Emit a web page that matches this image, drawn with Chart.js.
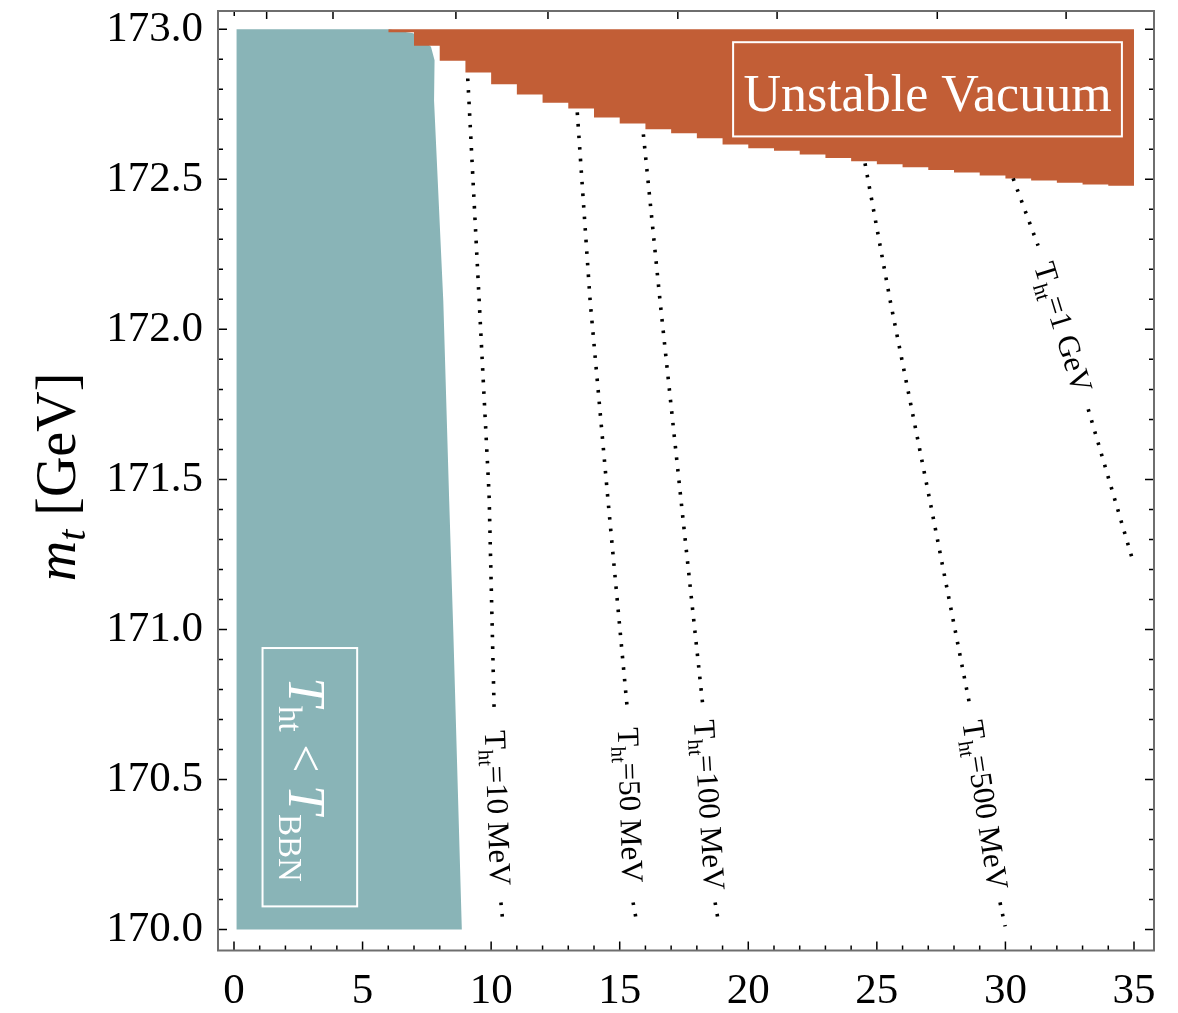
<!DOCTYPE html>
<html lang="pt-BR">
<head>
<meta charset="UTF-8">
<title>Vácuo instável — m_t</title>
<script src="https://cdn.jsdelivr.net/npm/chart.js@4.4.1/dist/chart.umd.min.js"></script>
<style>
  html, body { margin: 0; padding: 0; background: #ffffff; }
  #grafico { display: block; }
</style>
</head>
<body>
<canvas id="grafico" width="1178" height="1013"></canvas>
<script>
// -------------------------------------------------------------
// DADOS
// -------------------------------------------------------------
const ticksX = [0, 5, 10, 15, 20, 25, 30, 35];
const ticksY = [170.0, 170.5, 171.0, 171.5, 172.0, 172.5, 173.0];
// eixo superior: marcas sem rótulo, espaçamento irregular
const ticksTopo = [0.01, 1.27, 3.85, 8.63, 12.21, 17.26, 21.12, 27.35, 32.36];

// fronteira inferior da região "Unstable Vacuum" (degraus)
const vacuoX = [6, 7, 8, 9, 10, 11, 12, 13, 14, 15, 16, 17, 18, 19, 20,
                21, 22, 23, 24, 25, 26, 27, 28, 29, 30, 31, 32, 33, 34, 35];
const vacuoMt = [172.99, 172.945, 172.895, 172.856, 172.817, 172.783, 172.755, 172.736, 172.706, 172.686,
                 172.667, 172.654, 172.637, 172.616, 172.604, 172.595, 172.583, 172.571, 172.560, 172.550,
                 172.540, 172.531, 172.523, 172.513, 172.503, 172.496, 172.489, 172.483, 172.479, 172.479];

// região T_ht < T_BBN (contorno fechado)
const bbnX  = [0.1, 0.1, 6.0, 6.97, 7.66, 7.80, 7.78, 8.14, 8.37, 8.53, 8.86, 0.1];
const bbnMt = [170.0, 173.0, 173.0, 172.987, 172.942, 172.897, 172.763, 172.094, 171.426, 170.99, 170.0, 170.0];

// curvas pontilhadas de T_ht (null = espaço do rótulo)
const rotulosCurvas = ['10 MeV', '50 MeV', '100 MeV', '500 MeV', '1 GeV'];
const curva10X   = [9.09, 9.14, 9.92, 10.12, null, 10.38, 10.46];
const curva10Mt  = [172.836, 172.757, 171.45, 170.72, null, 170.09, 170.02];
const curva50X   = [13.35, 13.85, 14.55, 15.29, null, 15.52, 15.67];
const curva50Mt  = [172.723, 172.095, 171.426, 170.74, null, 170.09, 170.02];
const curva100X  = [15.92, 16.57, 17.39, 18.24, null, 18.71, 18.83];
const curva100Mt = [172.65, 172.094, 171.426, 170.74, null, 170.09, 170.03];
const curva500X  = [24.54, 25.52, 27.07, 28.63, null, 29.79, 29.99];
const curva500Mt = [172.553, 172.095, 171.426, 170.74, null, 170.09, 170.01];
const curva1GX   = [30.30, 31.27, null, 33.22, 34.93];
const curva1GMt  = [172.503, 172.279, null, 171.734, 171.236];

const FONTE = '"Liberation Serif", "DejaVu Serif", serif';
const COR_BBN = '#89b4b7';
const COR_VACUO = '#c25e36';

// -------------------------------------------------------------
// FUNÇÕES AUXILIARES
// -------------------------------------------------------------
function pontos(xs, ys) {
    return xs.map((v, i) => ({ x: v, y: ys[i] }));
}

function desenharTextoRico(ctx, partes, cx, cy, angulo, cor) {
    ctx.save();
    ctx.translate(cx, cy);
    ctx.rotate(angulo);
    ctx.fillStyle = cor;
    ctx.textAlign = 'left';
    ctx.textBaseline = 'alphabetic';
    let total = 0;
    const larguras = partes.map(p => {
        ctx.font = p.fonte;
        const w = ctx.measureText(p.texto).width;
        total += w;
        return w;
    });
    let x = -total / 2;
    partes.forEach((p, i) => {
        ctx.font = p.fonte;
        ctx.fillText(p.texto, x, p.base);
        x += larguras[i];
    });
    ctx.restore();
}

function rotuloCurva(texto) {
    return [
        { texto: 'T', fonte: `31px ${FONTE}`, base: 10 },
        { texto: 'ht', fonte: `21px ${FONTE}`, base: 17 },
        { texto: '=' + texto, fonte: `31px ${FONTE}`, base: 10 }
    ];
}

// -------------------------------------------------------------
// PLUGIN: moldura, marcas internas, rótulos e caixas
// -------------------------------------------------------------
const pluginMoldura = {
    id: 'moldura',
    afterDatasetsDraw(chart) {
        const { ctx, scales: { x, y } } = chart;

        // rótulos das curvas, no espaço deixado pelo null
        chart.data.datasets.forEach(ds => {
            if (ds.rotulo === undefined) return;
            const i = ds.data.findIndex(p => p.y === null);
            const a = ds.data[i - 1], b = ds.data[i + 1];
            const ax = x.getPixelForValue(a.x), ay = y.getPixelForValue(a.y);
            const bx = x.getPixelForValue(b.x), by = y.getPixelForValue(b.y);
            const ang = Math.atan2(by - ay, bx - ax);
            desenharTextoRico(ctx, rotuloCurva(ds.rotulo), (ax + bx) / 2, (ay + by) / 2, ang, '#000');
        });

        // caixa "Unstable Vacuum"
        ctx.save();
        ctx.strokeStyle = '#ffffff';
        ctx.lineWidth = 2;
        let x0 = x.getPixelForValue(19.41), x1 = x.getPixelForValue(34.53);
        let y0 = y.getPixelForValue(172.957), y1 = y.getPixelForValue(172.643);
        ctx.strokeRect(x0, y0, x1 - x0, y1 - y0);
        ctx.restore();
        desenharTextoRico(ctx, [{ texto: 'Unstable Vacuum', fonte: `52px ${FONTE}`, base: 17 }],
            x.getPixelForValue(26.97), y.getPixelForValue(172.785), 0, '#ffffff');

        // caixa T_ht < T_BBN (texto girado)
        ctx.save();
        ctx.strokeStyle = '#ffffff';
        ctx.lineWidth = 2;
        x0 = x.getPixelForValue(1.11); x1 = x.getPixelForValue(4.79);
        y0 = y.getPixelForValue(170.938); y1 = y.getPixelForValue(170.077);
        ctx.strokeRect(x0, y0, x1 - x0, y1 - y0);
        ctx.restore();
        desenharTextoRico(ctx, [
            { texto: 'T', fonte: `italic 52px ${FONTE}`, base: 16 },
            { texto: 'ht', fonte: `33px ${FONTE}`, base: 26 },
            { texto: ' < ', fonte: `50px ${FONTE}`, base: 16 },
            { texto: 'T', fonte: `italic 52px ${FONTE}`, base: 16 },
            { texto: 'BBN', fonte: `33px ${FONTE}`, base: 26 }
        ], x.getPixelForValue(2.75), y.getPixelForValue(170.50), Math.PI / 2, '#ffffff');
    },
    afterDraw(chart) {
        const { ctx, chartArea: a, scales: { x, y } } = chart;
        ctx.save();
        ctx.strokeStyle = '#000000';
        ctx.lineWidth = 1.5;
        ctx.beginPath();
        // eixo inferior: principais de 5 em 5, secundárias de 1 em 1
        for (let v = 0; v <= 35; v++) {
            const px = x.getPixelForValue(v);
            const len = v % 5 === 0 ? 9 : 5;
            ctx.moveTo(px, a.bottom); ctx.lineTo(px, a.bottom - len);
        }
        // eixo superior
        ticksTopo.forEach((v, i) => {
            const px = x.getPixelForValue(v);
            const len = i === 0 ? 5 : 8;
            ctx.moveTo(px, a.top); ctx.lineTo(px, a.top + len);
        });
        // eixos esquerdo e direito: principais de 0.5, secundárias de 0.1
        for (let k = 0; k <= 30; k++) {
            const py = y.getPixelForValue(170 + k / 10);
            const len = k % 5 === 0 ? 9 : 5;
            ctx.moveTo(a.left, py); ctx.lineTo(a.left + len, py);
            ctx.moveTo(a.right, py); ctx.lineTo(a.right - len, py);
        }
        ctx.stroke();
        ctx.strokeStyle = '#6e6e6e';
        ctx.lineWidth = 2;
        ctx.strokeRect(a.left, a.top, a.right - a.left, a.bottom - a.top);
        ctx.restore();

        // título do eixo y: m_t [GeV]
        desenharTextoRico(ctx, [
            { texto: 'm', fonte: `italic 56px ${FONTE}`, base: 18 },
            { texto: 't', fonte: `italic 40px ${FONTE}`, base: 28 },
            { texto: ' [GeV]', fonte: `56px ${FONTE}`, base: 18 }
        ], 57, 477, -Math.PI / 2, '#000000');
    }
};

// -------------------------------------------------------------
// GRÁFICO
// -------------------------------------------------------------
function estiloCurva(xs, ys, rotulo) {
    return {
        rotulo: rotulo,
        data: pontos(xs, ys),
        showLine: true,
        spanGaps: false,
        borderColor: '#000000',
        borderWidth: 3.6,
        borderDash: [2.6, 9],
        borderCapStyle: 'butt',
        pointRadius: 0,
        fill: false,
        order: 0
    };
}

const ctx = document.getElementById('grafico').getContext('2d');
new Chart(ctx, {
    type: 'scatter',
    data: {
        datasets: [
            estiloCurva(curva10X, curva10Mt, rotulosCurvas[0]),
            estiloCurva(curva50X, curva50Mt, rotulosCurvas[1]),
            estiloCurva(curva100X, curva100Mt, rotulosCurvas[2]),
            estiloCurva(curva500X, curva500Mt, rotulosCurvas[3]),
            estiloCurva(curva1GX, curva1GMt, rotulosCurvas[4]),
            {
                data: pontos(vacuoX, vacuoMt),
                showLine: true,
                stepped: 'before', // valor do ponto vale até o próximo x
                borderWidth: 0,
                borderColor: 'transparent',
                backgroundColor: COR_VACUO,
                pointRadius: 0,
                fill: { value: 173.0 },
                order: 1
            },
            {
                data: pontos(bbnX, bbnMt),
                showLine: true,
                borderWidth: 0,
                borderColor: 'transparent',
                backgroundColor: COR_BBN,
                pointRadius: 0,
                fill: 'shape',
                order: 2
            }
        ]
    },
    options: {
        responsive: false,
        devicePixelRatio: 1,
        animation: false,
        events: [],
        layout: { padding: { top: 11, right: 24, bottom: 0, left: 0 } },
        plugins: { legend: { display: false }, tooltip: { enabled: false } },
        scales: {
            x: {
                type: 'linear',
                min: -0.622,
                max: 35.778,
                afterBuildTicks: s => { s.ticks = ticksX.map(v => ({ value: v })); },
                afterFit: s => {
                    s.height = 62.5;
                    s.paddingLeft = 0; s.paddingRight = 0;
                },
                ticks: {
                    font: { family: FONTE, size: 43 },
                    color: '#000000',
                    padding: 15,
                    maxRotation: 0,
                    autoSkip: false
                },
                grid: { display: false, drawTicks: false },
                border: { display: false }
            },
            y: {
                type: 'linear',
                min: 169.93,
                max: 173.061,
                afterBuildTicks: s => { s.ticks = ticksY.map(v => ({ value: v })); },
                afterFit: s => {
                    s.width = 218;
                    s.paddingTop = 0; s.paddingBottom = 0;
                },
                ticks: {
                    font: { family: FONTE, size: 43 },
                    color: '#000000',
                    padding: 15,
                    autoSkip: false,
                    callback: v => Number(v).toFixed(1)
                },
                grid: { display: false, drawTicks: false },
                border: { display: false }
            }
        }
    },
    plugins: [pluginMoldura]
});
</script>
</body>
</html>
